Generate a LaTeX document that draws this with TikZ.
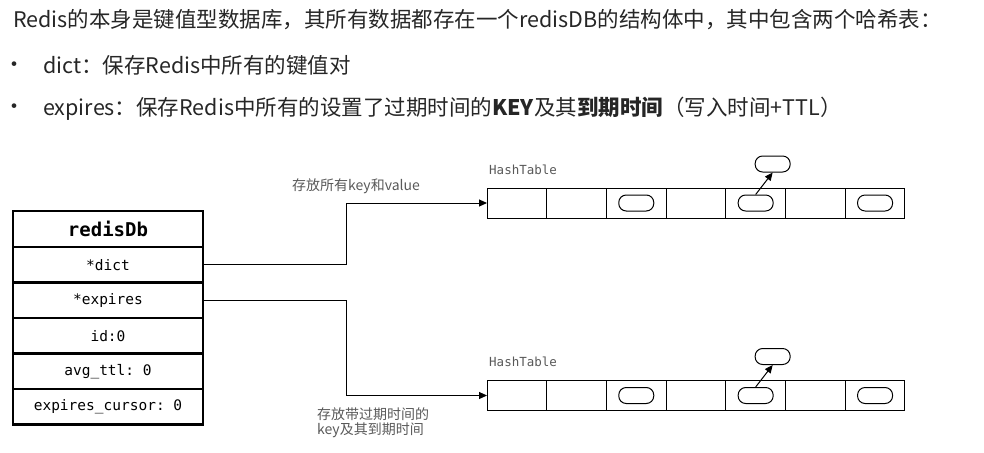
\documentclass[tikz,border=0pt]{standalone}
\usepackage{fontspec}
\setmainfont{Noto Sans CJK SC}
\setmonofont{DejaVu Sans Mono}
\usetikzlibrary{arrows.meta,positioning}
\definecolor{labelgrey}{HTML}{595959}
\definecolor{textdark}{HTML}{262626}
\tikzset{>/.tip={Triangle[length=8pt,width=7pt]},
  field/.style={draw,line width=2.4pt,minimum width=190pt,minimum height=35.5pt,inner sep=0pt,outer sep=0pt,font=\ttfamily\fontsize{14.5}{16}\selectfont},
  slot/.style={draw,line width=1pt,minimum width=59.7pt,minimum height=30pt,inner sep=0pt,outer sep=0pt},
  entry/.style={draw,line width=1pt,rounded corners=7.5pt,minimum width=35pt,minimum height=16pt,inner sep=0pt},
  note/.style={text=labelgrey,font=\fontsize{14}{15}\selectfont,align=left,anchor=west,inner sep=0pt},
  tablename/.style={text=labelgrey,font=\ttfamily\fontsize{12.5}{14}\selectfont,anchor=west,inner sep=0pt},
  intro/.style={anchor=base west,inner sep=0pt,text=textdark,font=\fontsize{21.5}{26}\selectfont},
  bullet/.style={inner sep=0pt,text=textdark,font=\fontsize{22}{24}\selectfont}}
\begin{document}
\begin{tikzpicture}[x=1pt,y=-1pt]
\useasboundingbox (0,0) rectangle (984,452);
\node[intro] (line1) at (13,28) {Redis的本身是键值型数据库，其所有数据都存在一个redisDB的结构体中，其中包含两个哈希表：};
\node[bullet] (dot1) at (15,67) {•};
\node[bullet] (dot2) at (15,109) {•};
\node[intro] (line2) at (43,73) {dict：保存Redis中所有的键值对};
\node[intro] (line3) at (43,115) {expires：保存Redis中所有的设置了过期时间的\textbf{KEY}及其\textbf{到期时间}（写入时间+TTL）};

\node[field,minimum height=36pt,font=\ttfamily\bfseries\fontsize{19}{22}\selectfont] (head) at (108,229) {redisDb};
\node[field,below=0pt of head] (dict) {*dict};
\node[field,below=0pt of dict] (expires) {*expires};
\node[field,below=0pt of expires] (id) {id:0};
\node[field,below=0pt of id] (ttl) {avg\_ttl: 0};
\node[field,below=0pt of ttl] (cursor) {expires\_cursor: 0};

\foreach \t/\y in {1/203,2/395.5}
{
  \foreach \i in {1,...,7}
  {
    \node[slot] (ht\t-\i) at ({487+59.7*(\i-0.5)},\y) {};
  }
  \foreach \i in {3,5,7}
  {
    \node[entry] (key\t-\i) at (ht\t-\i) {};
  }
  \node[entry] (chain\t) at ([xshift=17pt,yshift=39pt]ht\t-5) {};
  \draw[->,line width=1pt] (key\t-5.north) -- (chain\t.south);
  \node[tablename] (name\t) at (489,\y-33.5) {HashTable};
}

\coordinate (bend) at (346,0);
\draw[->,line width=1pt] (dict.east) -- (dict.east -| bend) |- (ht1-1.west);
\draw[->,line width=1pt] (expires.east) -- (expires.east -| bend) |- (ht2-1.west);
\node[note] (dictnote) at (292,186) {存放所有key和value};
\node[note] (expnote) at (317,423) {存放带过期时间的\\key及其到期时间};
\end{tikzpicture}
\end{document}
